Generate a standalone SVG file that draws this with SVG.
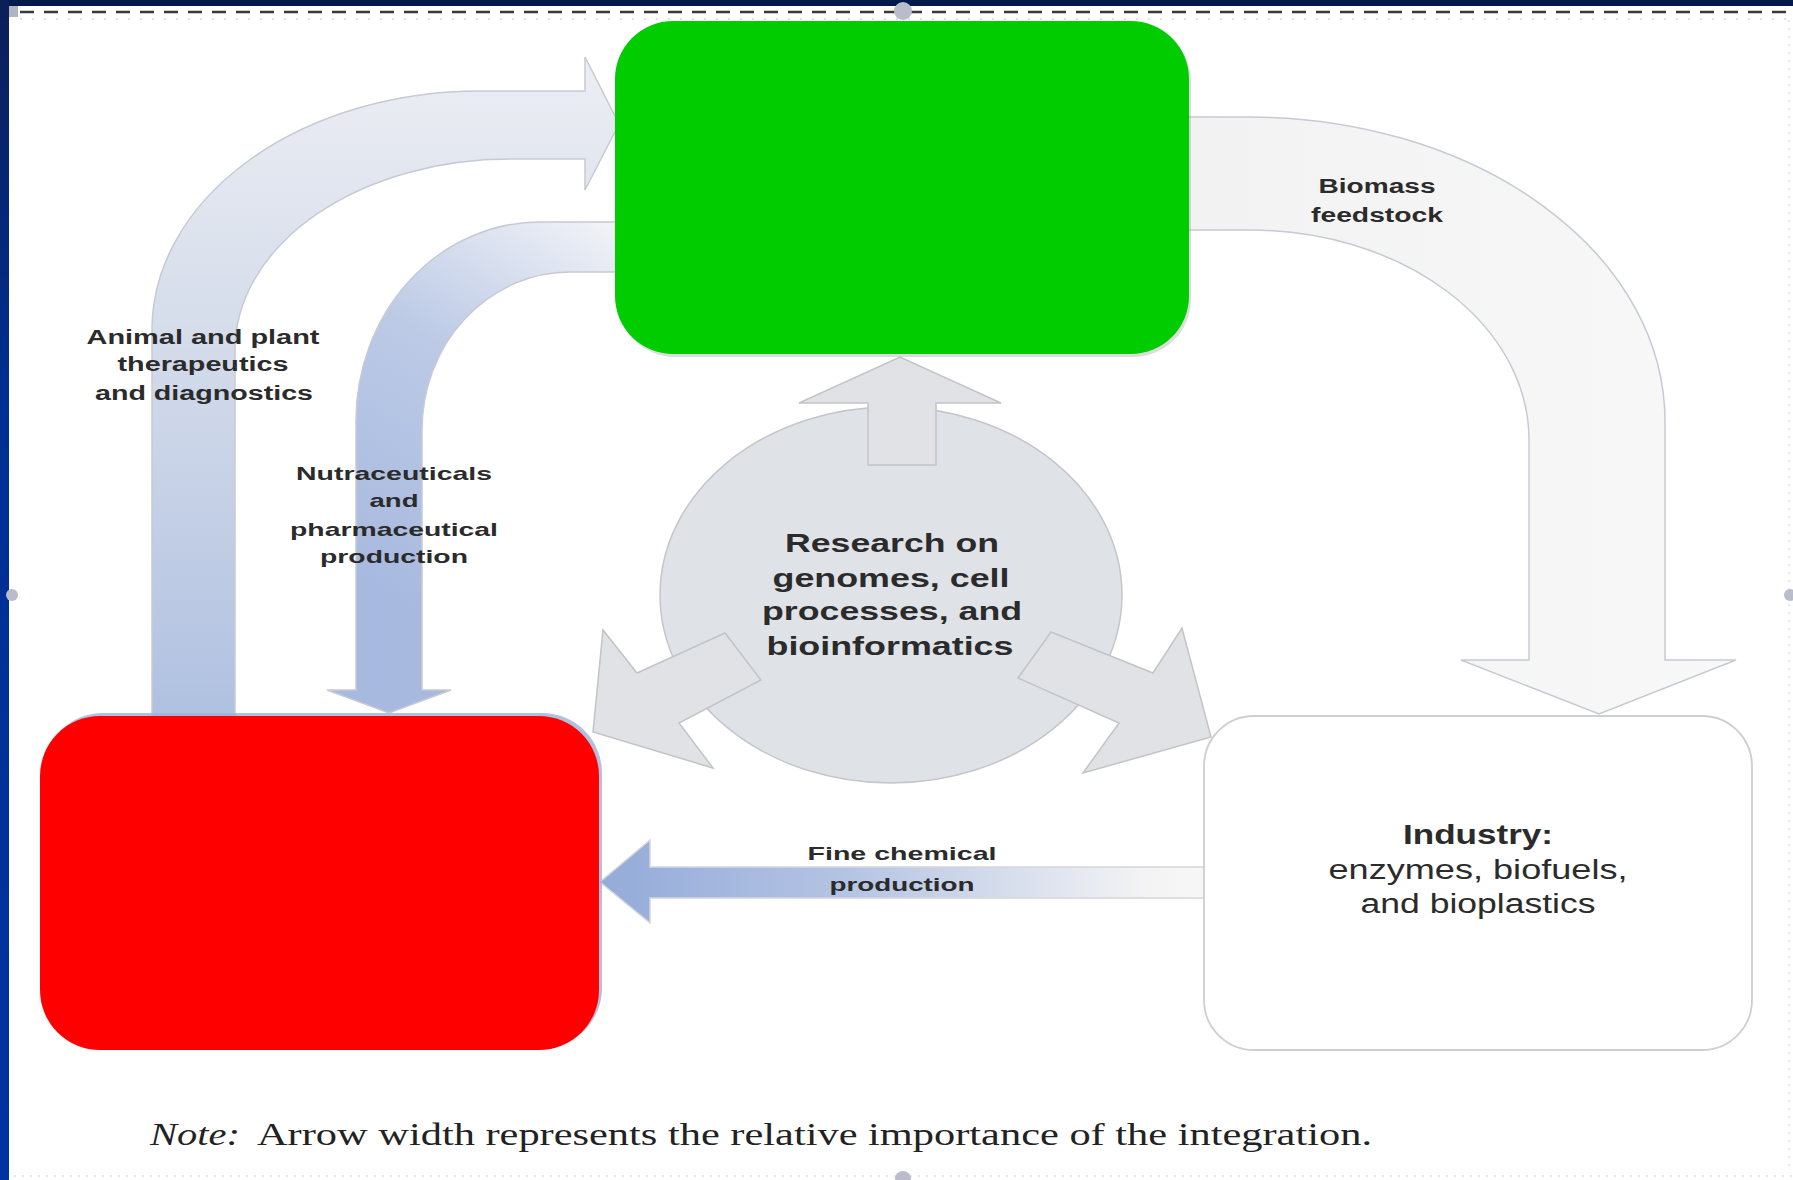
<svg xmlns="http://www.w3.org/2000/svg" width="1793" height="1180" viewBox="0 0 1793 1180">
<defs>
<linearGradient id="sideBar" x1="0" y1="0" x2="0" y2="1">
<stop offset="0" stop-color="#0b1f58"/>
<stop offset="0.35" stop-color="#002f94"/>
<stop offset="1" stop-color="#0033a0"/>
</linearGradient>
<linearGradient id="bigArcFill" x1="0" y1="0" x2="0" y2="1">
<stop offset="0" stop-color="#eceef3"/>
<stop offset="0.45" stop-color="#d3dbea"/>
<stop offset="1" stop-color="#afc0e0"/>
</linearGradient>
<linearGradient id="innerArcFill" gradientUnits="userSpaceOnUse" x1="620" y1="222" x2="389" y2="600">
<stop offset="0" stop-color="#f3f4f7"/>
<stop offset="0.45" stop-color="#bccae6"/>
<stop offset="1" stop-color="#a7b9df"/>
</linearGradient>
<linearGradient id="biomassFill" x1="0" y1="0" x2="1" y2="0">
<stop offset="0" stop-color="#f2f2f3"/>
<stop offset="1" stop-color="#f8f8f8"/>
</linearGradient>
<linearGradient id="fineFill" gradientUnits="userSpaceOnUse" x1="600" y1="0" x2="1205" y2="0">
<stop offset="0" stop-color="#94abd9"/>
<stop offset="0.4" stop-color="#b3c3e3"/>
<stop offset="0.9" stop-color="#f3f3f4"/>
<stop offset="1" stop-color="#f7f7f7"/>
</linearGradient>
</defs>
<style>
.lbl{font-family:"Liberation Sans",Arial,sans-serif;font-weight:bold;fill:#2b2b2b;text-anchor:middle}
.reg{font-family:"Liberation Sans",Arial,sans-serif;font-weight:normal;fill:#2b2b2b;text-anchor:middle}
.note{font-family:"Liberation Serif","Times New Roman",serif;fill:#222;font-size:31px}
.arc{stroke:#c6cad3;stroke-width:1.5}
.circArrow{fill:#e0e2e6;stroke:#c2c4c8;stroke-width:1.5}
.handle{fill:#b9bccb}
</style>

<!-- frame -->
<rect x="0" y="0" width="1793" height="1180" fill="#ffffff"/>
<rect x="0" y="0" width="1793" height="6" fill="#001a4d"/>
<rect x="0" y="0" width="9" height="1180" fill="url(#sideBar)"/>
<line x1="20" y1="12" x2="1793" y2="12" stroke="#3a3a3a" stroke-width="2.5" stroke-dasharray="14 10"/>
<line x1="20" y1="19" x2="1793" y2="19" stroke="#d8d8d8" stroke-width="1.5" stroke-dasharray="2 10"/>
<line x1="1789" y1="20" x2="1789" y2="1172" stroke="#dddddd" stroke-width="1.5" stroke-dasharray="2 6"/>
<line x1="14" y1="1176" x2="1793" y2="1176" stroke="#dddddd" stroke-width="1.5" stroke-dasharray="2 6"/>
<rect x="9" y="6" width="9" height="11" fill="#b0b3c0"/>
<circle class="handle" cx="903" cy="11" r="9"/>
<circle class="handle" cx="12" cy="595" r="6"/>
<circle class="handle" cx="1790" cy="595" r="6"/>
<circle class="handle" cx="903" cy="1179" r="8"/>

<!-- connectors -->
<g id="connectors">
<path id="biomass-arrow" class="arc" fill="url(#biomassFill)" d="M1185,117 L1249,117 A416,304 0 0 1 1665,421 L1665,660 L1736,660 L1599,714 L1461,660 L1529,660 L1529,440 A279,210 0 0 0 1250,230 L1185,230 Z"/>
<path id="therapeutics-arrow" class="arc" fill="url(#bigArcFill)" d="M152,722 L152,330 A328,239 0 0 1 480,91 L585,91 L585,57 L619,124 L585,190 L585,159 L510,159 A275,191 0 0 0 235,350 L235,722 Z"/>
<path id="nutraceuticals-arrow" class="arc" fill="url(#innerArcFill)" d="M620,222 L540,222 A184,199 0 0 0 356,421 L356,690 L327,690 L389,713 L451,690 L422,690 L422,430 A148,158 0 0 1 570,272 L620,272 Z"/>
<path id="fine-chemical-arrow" fill="url(#fineFill)" stroke="#d3d6dc" stroke-width="1.5" d="M1206,867 L650,867 L650,840 L600,882 L650,923 L650,898 L1206,898 Z"/>
</g>

<!-- research node -->
<g id="research">
<ellipse cx="891" cy="595" rx="231" ry="188" fill="#dfe2e7" stroke="#c4c6ca" stroke-width="1.5"/>
<polygon class="circArrow" points="868,465 868,403 799,403 900,357 1001,403 936,403 936,465"/>
<polygon class="circArrow" points="725,633 637,673 603,630 593,732 713,768 679,723 761,680"/>
<polygon class="circArrow" points="1051,632 1153,673 1182,628 1211,737 1083,773 1119,723 1018,678"/>
<text class="lbl" font-size="25" x="892" y="552" textLength="214" lengthAdjust="spacingAndGlyphs">Research on</text>
<text class="lbl" font-size="25" x="891" y="587" textLength="237" lengthAdjust="spacingAndGlyphs">genomes, cell</text>
<text class="lbl" font-size="25" x="892" y="620" textLength="260" lengthAdjust="spacingAndGlyphs">processes, and</text>
<text class="lbl" font-size="25" x="890" y="655" textLength="247" lengthAdjust="spacingAndGlyphs">bioinformatics</text>
</g>

<!-- connector labels -->
<g id="connector-labels">
<text class="lbl" font-size="20" x="203" y="344" textLength="233" lengthAdjust="spacingAndGlyphs">Animal and plant</text>
<text class="lbl" font-size="20" x="203" y="371" textLength="171" lengthAdjust="spacingAndGlyphs">therapeutics</text>
<text class="lbl" font-size="20" x="204" y="400" textLength="218" lengthAdjust="spacingAndGlyphs">and diagnostics</text>
<text class="lbl" font-size="19" x="394" y="480" textLength="196" lengthAdjust="spacingAndGlyphs">Nutraceuticals</text>
<text class="lbl" font-size="19" x="394" y="507" textLength="49" lengthAdjust="spacingAndGlyphs">and</text>
<text class="lbl" font-size="19" x="394" y="536" textLength="208" lengthAdjust="spacingAndGlyphs">pharmaceutical</text>
<text class="lbl" font-size="19" x="394" y="563" textLength="148" lengthAdjust="spacingAndGlyphs">production</text>
<text class="lbl" font-size="20" x="1377" y="193" textLength="117" lengthAdjust="spacingAndGlyphs">Biomass</text>
<text class="lbl" font-size="20" x="1377" y="222" textLength="132" lengthAdjust="spacingAndGlyphs">feedstock</text>
<text class="lbl" font-size="19" x="902" y="860" textLength="189" lengthAdjust="spacingAndGlyphs">Fine chemical</text>
<text class="lbl" font-size="19" x="902" y="891" textLength="145" lengthAdjust="spacingAndGlyphs">production</text>
</g>

<!-- nodes -->
<g id="green-node">
<rect x="617" y="24" width="574" height="333" rx="58" ry="58" fill="#9a9a9a" opacity="0.35"/>
<rect x="615" y="21" width="574" height="333" rx="58" ry="58" fill="#00cc00"/>
</g>
<g id="red-node">
<rect x="43" y="713" width="559" height="335" rx="60" ry="60" fill="#9fb0d6" opacity="0.8"/>
<rect x="40" y="716" width="559" height="334" rx="60" ry="60" fill="#ff0000"/>
</g>
<g id="industry-node">
<rect x="1204" y="716" width="548" height="334" rx="50" ry="50" fill="#ffffff" stroke="#cfcfcf" stroke-width="1.8"/>
<text class="lbl" font-size="27" x="1478" y="844" textLength="150" lengthAdjust="spacingAndGlyphs">Industry:</text>
<text class="reg" font-size="27" x="1478" y="879" textLength="299" lengthAdjust="spacingAndGlyphs">enzymes, biofuels,</text>
<text class="reg" font-size="27" x="1478" y="913" textLength="235" lengthAdjust="spacingAndGlyphs">and bioplastics</text>
</g>

<!-- note -->
<g id="note">
<text class="note" x="150" y="1145" font-style="italic" textLength="90" lengthAdjust="spacingAndGlyphs">Note:</text>
<text class="note" x="257" y="1145" textLength="1115" lengthAdjust="spacingAndGlyphs">Arrow width represents the relative importance of the integration.</text>
</g>
</svg>
